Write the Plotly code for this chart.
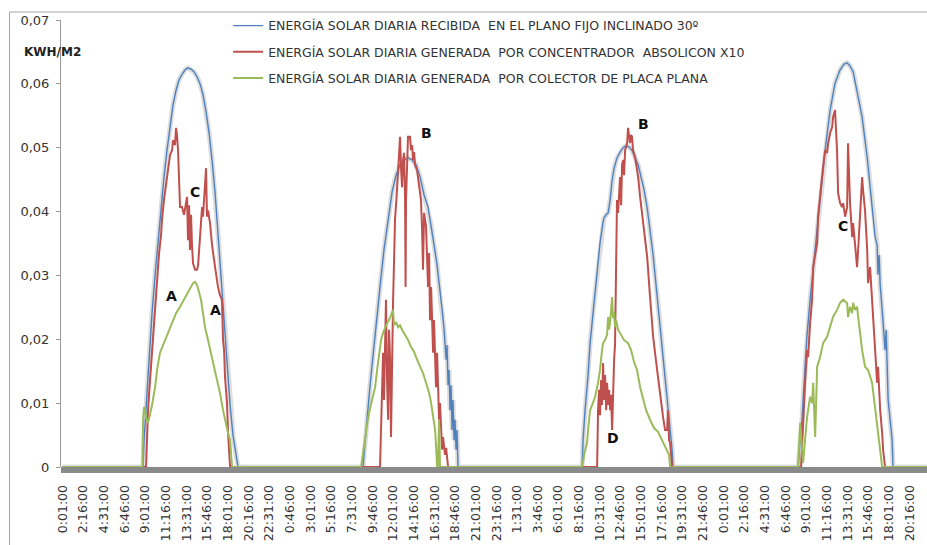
import pandas as pd
import plotly.graph_objects as go

# ---------------------------------------------------------------------------
# Record start (four consecutive days, one-minute logger, 1 tick every 135 min)
# ---------------------------------------------------------------------------
START = pd.Timestamp("2010-06-01 00:00")
N_DAYS = 4

# y axis ticks
y_tick_vals = [0, 0.01, 0.02, 0.03, 0.04, 0.05, 0.06, 0.07]
y_tick_text = ["0", "0,01", "0,02", "0,03", "0,04", "0,05", "0,06", "0,07"]

# x axis ticks: minutes from the record start
x_tick_minutes = [1 + 135 * k for k in range(43)]

# ---------------------------------------------------------------------------
# Readings: minute of the day and energy in kWh/m2, per day and per series
# ---------------------------------------------------------------------------
# Day 1
d1_blue_t = [526, 533, 546, 565, 585, 605, 624, 644, 663, 683, 703, 722, 742, 761, 781, 801,
             820, 840, 859, 879, 899, 918, 938, 958, 977, 997, 1016, 1036, 1056, 1075, 1095,
             1114, 1134, 1147]
d1_blue_v = [0, 0.0042, 0.0094, 0.0175, 0.0241, 0.0301, 0.0355, 0.0406, 0.0453, 0.0496, 0.0536,
             0.0567, 0.0590, 0.0606, 0.0615, 0.0622, 0.0625, 0.0623, 0.0619, 0.0611, 0.0600,
             0.0583, 0.0556, 0.0523, 0.0481, 0.0429, 0.0366, 0.0301, 0.0230, 0.0160, 0.0097,
             0.0050, 0.0019, 0]
d1_red_t = [546, 552, 559, 572, 585, 598, 611, 624, 631, 644, 650, 663, 676, 690, 703, 716, 722,
            735, 742, 748, 755, 768, 781, 794, 807, 814, 820, 827, 833, 840, 846, 853, 866, 879,
            886, 899, 905, 912, 918, 925, 938, 944, 951, 964, 977, 997, 1016, 1029, 1042, 1049,
            1056, 1062, 1069, 1075, 1082, 1088, 1095]
d1_red_v = [0, 0.0042, 0.0089, 0.0136, 0.0179, 0.0230, 0.0269, 0.0309, 0.0335, 0.0363, 0.0387,
            0.0418, 0.0442, 0.0465, 0.0489, 0.0496, 0.0512, 0.0504, 0.0531, 0.0520, 0.0496,
            0.0407, 0.0407, 0.0395, 0.0418, 0.0423, 0.0355, 0.0410, 0.0340, 0.0395, 0.0348,
            0.0319, 0.0309, 0.0309, 0.0316, 0.0360, 0.0395, 0.0407, 0.0392, 0.0426, 0.0468,
            0.0392, 0.0402, 0.0382, 0.0348, 0.0313, 0.0282, 0.0269, 0.0262, 0.0199, 0.0183,
            0.0141, 0.0121, 0.0100, 0.0053, 0.0019, 0]
d1_green_t = [523, 526, 533, 539, 546, 559, 572, 585, 605, 618, 637, 657, 683, 703, 722, 742,
              768, 794, 814, 827, 840, 853, 866, 879, 892, 905, 918, 931, 951, 971, 990, 1010,
              1029, 1049, 1069, 1082, 1095, 1101, 1108]
d1_green_v = [0, 0.0074, 0.0094, 0.0089, 0.0077, 0.0069, 0.0081, 0.0097, 0.0125, 0.0152,
              0.0179, 0.0191, 0.0204, 0.0218, 0.0230, 0.0241, 0.0251, 0.0262, 0.0272, 0.0277,
              0.0283, 0.0288, 0.0290, 0.0285, 0.0274, 0.0262, 0.0241, 0.0219, 0.0199, 0.0175,
              0.0157, 0.0136, 0.0116, 0.0089, 0.0066, 0.0053, 0.0042, 0.0027, 0]

# Day 2
d2_blue_t = [524, 537, 550, 570, 590, 616, 635, 661, 688, 714, 740, 766, 792, 818, 844, 871,
             897, 923, 949, 969, 988, 1008, 1027, 1041, 1054, 1067, 1073, 1080, 1086, 1093,
             1099, 1106, 1112, 1119, 1125, 1132, 1138, 1145]
d2_blue_v = [0, 0.0042, 0.0074, 0.0128, 0.0179, 0.0246, 0.0282, 0.0340, 0.0387, 0.0431, 0.0457,
             0.0473, 0.0481, 0.0484, 0.0481, 0.0473, 0.0454, 0.0426, 0.0407, 0.0379, 0.0348,
             0.0316, 0.0269, 0.0246, 0.0215, 0.0168, 0.0191, 0.0128, 0.0152, 0.0089, 0.0128,
             0.0058, 0.0105, 0.0042, 0.0074, 0.0027, 0.0058, 0]
d2_red_t = [635, 642, 648, 655, 661, 668, 674, 681, 688, 694, 701, 707, 714, 720, 727, 733, 746,
            753, 760, 766, 773, 779, 786, 792, 799, 802, 805, 812, 818, 831, 838, 845, 851, 858,
            864, 877, 890, 903, 910, 916, 923, 936, 949, 956, 962, 969, 982, 988, 1001, 1008,
            1021, 1027, 1041, 1047, 1060, 1067, 1080]
d2_red_v = [0, 0.0074, 0.0136, 0.0179, 0.0105, 0.0199, 0.0262, 0.0136, 0.0074, 0.0215, 0.0168,
            0.0047, 0.0215, 0.0257, 0.0324, 0.0387, 0.0434, 0.0465, 0.0496, 0.0517, 0.0465,
            0.0438, 0.0481, 0.0492, 0.0418, 0.0282, 0.0418, 0.0492, 0.0517, 0.0517, 0.0496,
            0.0504, 0.0481, 0.0493, 0.0473, 0.0465, 0.0442, 0.0418, 0.0371, 0.0309, 0.0398,
            0.0376, 0.0282, 0.0335, 0.0230, 0.0282, 0.0179, 0.0230, 0.0125, 0.0179, 0.0074,
            0.0100, 0.0027, 0.0047, 0.0019, 0.0030, 0]
d2_green_t = [511, 524, 537, 550, 563, 583, 603, 616, 629, 642, 655, 668, 681, 694, 707, 720,
              727, 740, 753, 766, 779, 799, 818, 838, 858, 877, 897, 916, 936, 956, 969, 982,
              995, 1001, 1008, 1014, 1021, 1027]
d2_green_v = [0, 0.0019, 0.0042, 0.0066, 0.0085, 0.0105, 0.0125, 0.0152, 0.0175, 0.0199,
              0.0210, 0.0219, 0.0225, 0.0230, 0.0238, 0.0246, 0.0222, 0.0227, 0.0219, 0.0222,
              0.0215, 0.0207, 0.0199, 0.0188, 0.0180, 0.0168, 0.0157, 0.0147, 0.0132, 0.0116,
              0.0100, 0.0081, 0.0058, 0.0034, 0, 0, 0.0074, 0]

# Day 3
d3_blue_t = [516, 522, 535, 555, 568, 588, 601, 620, 633, 653, 659, 673, 686, 699, 712, 725,
             744, 764, 784, 803, 823, 842, 862, 882, 901, 921, 941, 960, 980, 999, 1019, 1039,
             1058, 1078, 1091, 1104, 1110]
d3_blue_v = [0, 0.0042, 0.0089, 0.0144, 0.0194, 0.0246, 0.0272, 0.0324, 0.0351, 0.0384, 0.0390,
             0.0395, 0.0398, 0.0418, 0.0449, 0.0468, 0.0484, 0.0493, 0.0500, 0.0503, 0.0501,
             0.0496, 0.0485, 0.0473, 0.0454, 0.0434, 0.0406, 0.0371, 0.0332, 0.0285, 0.0238,
             0.0191, 0.0139, 0.0089, 0.0058, 0.0027, 0]
d3_red_t = [614, 620, 627, 633, 640, 646, 653, 659, 666, 673, 679, 686, 692, 699, 705, 712, 718,
            725, 731, 738, 744, 751, 757, 764, 771, 777, 784, 790, 797, 810, 816, 823, 829, 836,
            842, 849, 862, 875, 882, 895, 914, 941, 960, 980, 1006, 1026, 1045, 1058, 1071,
            1078, 1084, 1091, 1104]
d3_red_v = [0, 0.0089, 0.0121, 0.0081, 0.0136, 0.0097, 0.0163, 0.0105, 0.0144, 0.0089, 0.0132,
            0.0097, 0.0121, 0.0089, 0.0113, 0.0058, 0.0121, 0.0168, 0.0191, 0.0387, 0.0418,
            0.0398, 0.0434, 0.0454, 0.0410, 0.0473, 0.0481, 0.0457, 0.0496, 0.0507, 0.0531,
            0.0512, 0.0507, 0.0520, 0.0517, 0.0496, 0.0485, 0.0465, 0.0454, 0.0423, 0.0382,
            0.0329, 0.0266, 0.0204, 0.0152, 0.0110, 0.0078, 0.0058, 0.0058, 0.0089, 0.0042,
            0.0038, 0]
d3_green_t = [516, 529, 548, 555, 568, 581, 601, 620, 633, 646, 653, 666, 679, 686, 692, 699,
              705, 712, 718, 725, 731, 738, 751, 771, 790, 816, 836, 856, 875, 895, 914, 934,
              960, 986, 1012, 1039, 1065, 1084, 1091]
d3_green_v = [0, 0.0019, 0.0038, 0.0058, 0.0089, 0.0097, 0.0110, 0.0132, 0.0152, 0.0183,
              0.0194, 0.0199, 0.0207, 0.0235, 0.0215, 0.0227, 0.0246, 0.0266, 0.0233, 0.0243,
              0.0219, 0.0230, 0.0215, 0.0207, 0.0199, 0.0194, 0.0183, 0.0164, 0.0152, 0.0125,
              0.0105, 0.0089, 0.0074, 0.0061, 0.0055, 0.0042, 0.0030, 0.0019, 0]

# Day 4
d4_blue_t = [488, 501, 514, 533, 546, 566, 599, 631, 664, 697, 729, 762, 788, 808, 827, 847,
             873, 906, 939, 971, 991, 1004, 1010, 1017, 1024, 1037, 1050, 1056, 1063, 1069,
             1076, 1089, 1102, 1108]
d4_blue_v = [0, 0.0042, 0.0078, 0.0157, 0.0207, 0.0262, 0.0340, 0.0418, 0.0496, 0.0559, 0.0601,
             0.0622, 0.0631, 0.0633, 0.0628, 0.0619, 0.0590, 0.0548, 0.0485, 0.0413, 0.0360,
             0.0348, 0.0301, 0.0332, 0.0285, 0.0246, 0.0207, 0.0183, 0.0215, 0.0144, 0.0105,
             0.0074, 0.0042, 0]
d4_red_t = [507, 520, 533, 546, 553, 566, 579, 586, 599, 612, 618, 631, 644, 651, 664, 677, 684,
            697, 710, 716, 729, 742, 749, 762, 775, 782, 795, 808, 814, 827, 841, 847, 860, 873,
            880, 893, 906, 912, 925, 939, 945, 958, 971, 978, 991, 1004, 1010, 1024, 1037, 1043,
            1056]
d4_red_v = [0, 0.0078, 0.0132, 0.0183, 0.0172, 0.0225, 0.0262, 0.0313, 0.0332, 0.0351, 0.0392,
            0.0429, 0.0454, 0.0470, 0.0496, 0.0492, 0.0507, 0.0523, 0.0532, 0.0548, 0.0559,
            0.0496, 0.0429, 0.0413, 0.0407, 0.0413, 0.0392, 0.0407, 0.0507, 0.0413, 0.0360,
            0.0382, 0.0340, 0.0313, 0.0340, 0.0402, 0.0454, 0.0434, 0.0402, 0.0340, 0.0288,
            0.0313, 0.0262, 0.0225, 0.0183, 0.0132, 0.0157, 0.0089, 0.0053, 0.0027, 0]
d4_green_t = [488, 501, 514, 520, 546, 566, 579, 586, 599, 612, 631, 651, 677, 697, 716, 742,
              762, 782, 808, 814, 827, 841, 847, 860, 873, 880, 893, 906, 925, 945, 971, 991,
              1004, 1010, 1024, 1037]
d4_green_v = [0, 0.0069, 0.0027, 0.0006, 0.0078, 0.0110, 0.0100, 0.0132, 0.0047, 0.0157,
              0.0172, 0.0194, 0.0204, 0.0219, 0.0235, 0.0246, 0.0257, 0.0262, 0.0257, 0.0235,
              0.0251, 0.0241, 0.0257, 0.0246, 0.0251, 0.0235, 0.0210, 0.0183, 0.0157, 0.0152,
              0.0132, 0.0089, 0.0063, 0.0053, 0.0027, 0]

series_names = [
    "ENERGÍA SOLAR DIARIA RECIBIDA  EN EL PLANO FIJO INCLINADO 30º",
    "ENERGÍA SOLAR DIARIA GENERADA  POR CONCENTRADOR  ABSOLICON X10",
    "ENERGÍA SOLAR DIARIA GENERADA  POR COLECTOR DE PLACA PLANA",
]
series_colors = ["#4F81BD", "#C0504D", "#9BBB59"]

# Letters written over the curves: day index, minute of day, value
note_text = ["C", "A", "A", "B", "B", "D", "C"]
note_day = [0, 0, 0, 1, 2, 2, 3]
note_minute = [866, 709, 1003, 936, 914, 718, 781]
note_value = [0.0431, 0.0268, 0.0246, 0.0523, 0.0537, 0.0045, 0.0377]


def full_series(days):
    """Join the daily readings into one record, zero through the nights."""
    xs, ys = [START], [0.0]
    for d, (tt, vv) in enumerate(days):
        if len(tt) != len(vv):
            raise ValueError(f"day {d + 1}: {len(tt)} times, {len(vv)} values")
        for m, val in zip(tt, vv):
            xs.append(START + pd.Timedelta(days=d, minutes=m))
            ys.append(val)
    xs.append(START + pd.Timedelta(days=N_DAYS, minutes=-1))
    ys.append(0.0)
    return xs, ys


blue = full_series([(d1_blue_t, d1_blue_v), (d2_blue_t, d2_blue_v),
                    (d3_blue_t, d3_blue_v), (d4_blue_t, d4_blue_v)])
red = full_series([(d1_red_t, d1_red_v), (d2_red_t, d2_red_v),
                   (d3_red_t, d3_red_v), (d4_red_t, d4_red_v)])
green = full_series([(d1_green_t, d1_green_v), (d2_green_t, d2_green_v),
                     (d3_green_t, d3_green_v), (d4_green_t, d4_green_v)])

fig = go.Figure()

# soft grey shadow under the irradiation curve
fig.add_trace(go.Scatter(x=blue[0], y=blue[1], mode="lines", showlegend=False,
                         hoverinfo="skip",
                         line=dict(color="rgba(120,120,120,0.25)", width=5)))

for (xs, ys), name, col, w, grp in zip([blue, red, green], series_names, series_colors,
                                        [1.4, 2.0, 2.0], ["g1", "g2", "g3"]):
    fig.add_trace(go.Scatter(x=xs, y=ys, mode="lines", name=name, legendgroup=grp,
                             line=dict(color=col, width=w)))

tick_vals = [START + pd.Timedelta(minutes=m) for m in x_tick_minutes]
tick_text = [f"{(m // 60) % 24}:{m % 60:02d}:00" for m in x_tick_minutes]

fig.update_xaxes(
    type="date",
    range=[START + pd.Timedelta(minutes=-10), START + pd.Timedelta(minutes=5650)],
    tickmode="array", tickvals=tick_vals, ticktext=tick_text, tickangle=-90,
    showgrid=False, zeroline=False, showline=False,
    ticks="outside", ticklen=12, tickcolor="rgba(0,0,0,0)",
    tickfont=dict(family="DejaVu Sans", size=12.5, color="#333333"),
)
fig.update_yaxes(
    range=[0, 0.07], tickmode="array", tickvals=y_tick_vals, ticktext=y_tick_text,
    showgrid=False, zeroline=False, showline=True, linecolor="#9a9a9a", linewidth=1,
    ticks="outside", ticklen=4, tickcolor="#9a9a9a", ticklabelstandoff=4,
    tickfont=dict(family="DejaVu Sans", size=13, color="#333333"),
)

annotations = []
for txt, d, m, v in zip(note_text, note_day, note_minute, note_value):
    annotations.append(dict(
        x=START + pd.Timedelta(days=d, minutes=m), y=v, xref="x", yref="y",
        text=f"<b>{txt}</b>", showarrow=False, xanchor="center", yanchor="middle",
        font=dict(family="DejaVu Sans", size=14, color="#111111")))
annotations.append(dict(
    x=-0.0098, y=0.928, xref="paper", yref="paper", text="<b>KWH/M2</b>",
    showarrow=False, xanchor="center", yanchor="middle",
    font=dict(family="DejaVu Sans", size=12, color="#222222")))

shapes = [
    # grey floor under the time axis
    dict(type="rect", xref="paper", yref="paper", x0=0, x1=1, y0=0, y1=-6 / 447,
         fillcolor="#8a8a8a", line=dict(width=0), layer="below"),
    # chart frame (left and top edges)
    dict(type="line", xref="paper", yref="paper", x0=-0.0595, x1=-0.0595, y0=1.0179, y1=-0.3,
         line=dict(color="#a6a6a6", width=1)),
    dict(type="line", xref="paper", yref="paper", x0=-0.0595, x1=1.05, y0=1.0179, y1=1.0179,
         line=dict(color="#a6a6a6", width=1)),
]

fig.update_layout(
    width=927, height=545,
    margin=dict(l=61, r=0, t=20, b=78),
    paper_bgcolor="white", plot_bgcolor="white",
    showlegend=True,
    legend=dict(x=0.193, y=1.0202, xanchor="left", yanchor="top",
                bgcolor="rgba(0,0,0,0)", borderwidth=0, traceorder="grouped",
                tracegroupgap=7, itemwidth=30,
                font=dict(family="DejaVu Sans", size=12.5, color="#333333")),
    annotations=annotations,
    shapes=shapes,
)

fig.write_html("out.html", config={"displayModeBar": False})
